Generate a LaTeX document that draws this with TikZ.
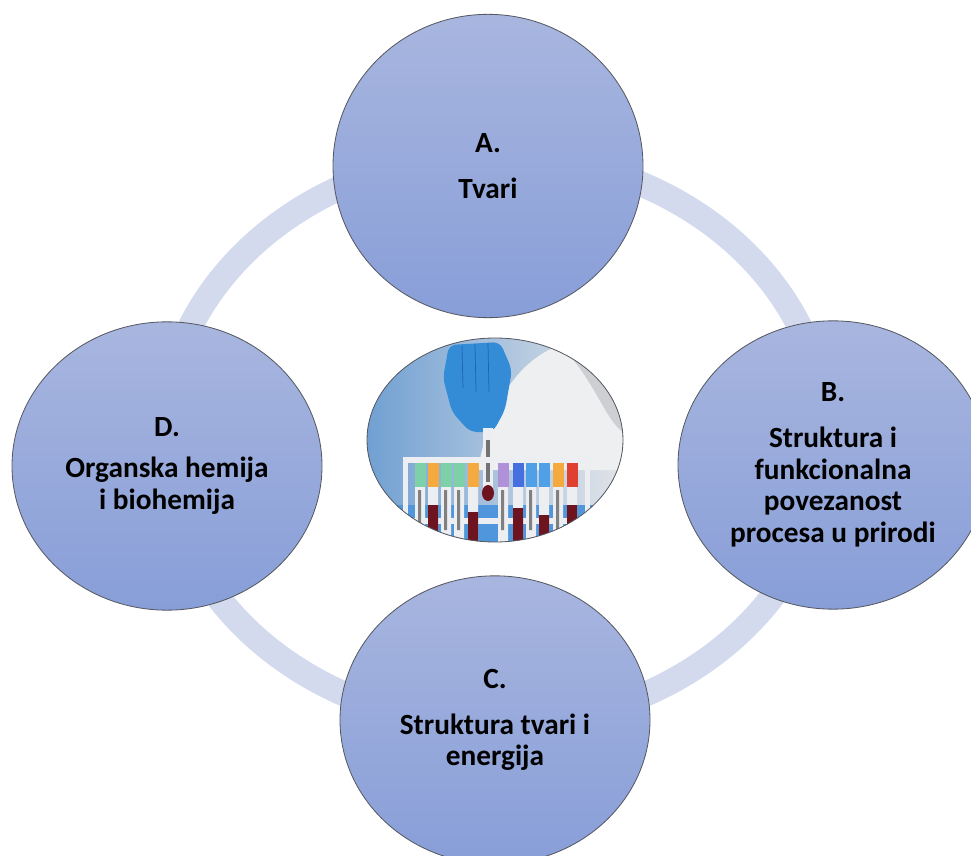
\documentclass[tikz,border=0pt]{standalone}
\usepackage{fontspec}
\setmainfont{Carlito}
\usetikzlibrary{shapes.geometric}
\definecolor{circtop}{RGB}{168,182,223}
\definecolor{circbot}{RGB}{136,158,216}
\definecolor{ringcol}{RGB}{212,218,238}
\definecolor{rimcol}{RGB}{85,88,96}
\definecolor{photoblue}{RGB}{112,160,210}
\definecolor{photogrey}{RGB}{226,228,232}
\definecolor{photosky}{RGB}{80,150,220}
\definecolor{coatwhite}{RGB}{238,239,241}
\definecolor{coatgrey}{RGB}{205,207,211}
\definecolor{glove}{RGB}{52,140,215}
\definecolor{glovedark}{RGB}{30,100,175}
\definecolor{tubewhite}{RGB}{236,238,242}
\definecolor{blood}{RGB}{110,20,30}
\definecolor{capgreen}{RGB}{125,208,168}
\definecolor{caporange}{RGB}{245,170,64}
\definecolor{cappurple}{RGB}{176,144,216}
\definecolor{capblue}{RGB}{70,112,224}
\definecolor{caplight}{RGB}{80,160,232}
\definecolor{capred}{RGB}{224,64,48}
\tikzset{
	topic/.style={ellipse, draw=rimcol, line width=0.7pt, top color=circtop, bottom color=circbot,
		minimum width=93mm, minimum height=86.5mm, inner sep=0pt, align=center,
		font=\fontsize{25}{27}\selectfont\bfseries},
	ring/.style={line width=7.5mm, color=ringcol},
}

\begin{document}
\begin{tikzpicture}[x=0.3mm, y=-0.3mm]
			%%%%% START %%%%%
			
			\useasboundingbox (0, 0) rectangle (971, 856);
			
			\draw[ring] (495, 440) ellipse (332 and 285);
			
			\node[topic, minimum height=91mm] (tvari) at (488, 166) {A.\\[12pt]Tvari};
			\node[topic] (struktura) at (833, 465) {B.\\[12pt]Struktura i\\funkcionalna\\povezanost\\procesa u prirodi};
			\node[topic] (energija) at (495, 720) {C.\\[12pt]Struktura tvari i\\energija};
			\node[topic] (organska) at (167, 466) {D.\\[8pt]Organska hemija\\i biohemija};
			
			\begin{scope}
				\clip (495, 440) ellipse (128 and 102);
				\shade[left color=photoblue, right color=photogrey] (367, 337) rectangle (623, 543);
				\fill[photosky] (367, 505) rectangle (623, 543);
				
				\fill[coatwhite] (478, 470) .. controls (490, 400) and (520, 360) .. (560, 345) -- (623, 337) -- (623, 470) -- cycle;
				\fill[coatgrey] (560, 345) .. controls (595, 380) and (605, 420) .. (623, 432) -- (623, 337) -- cycle;
				
				\fill[glove, rounded corners=6] (443, 378) -- (449, 345) -- (500, 342) -- (512, 370) -- (505, 410) -- (493, 432) -- (470, 432) -- (452, 412) -- cycle;
				\draw[glovedark, line width=0.6pt] (462, 346) -- (463, 388);
				\draw[glovedark, line width=0.6pt] (475, 344) -- (476, 392);
				\draw[glovedark, line width=0.6pt] (488, 343) -- (489, 392);
				
				\fill[tubewhite] (483, 428) rectangle (493, 495);
				\fill[black!55] (486, 440) rectangle (490, 482);
				\fill[blood] (488, 493) ellipse (6 and 8);
				
				\fill[tubewhite] (403, 457) rectangle (590, 463);
				\fill[tubewhite] (403, 518) rectangle (590, 524);
				\fill[tubewhite] (403, 457) rectangle (408, 543);
				\fill[tubewhite] (585, 457) rectangle (590, 543);
				
				\fill[tubewhite] (415, 487) rectangle (425, 543) (428, 487) rectangle (438, 543) (441, 487) rectangle (451, 543)
					(454, 487) rectangle (464, 543) (468, 487) rectangle (478, 543) (498, 487) rectangle (508, 543)
					(513, 487) rectangle (523, 543) (526, 487) rectangle (536, 543) (539, 487) rectangle (549, 543)
					(553, 487) rectangle (563, 543) (567, 487) rectangle (577, 543);
				\fill[blood] (428, 505) rectangle (438, 543) (468, 512) rectangle (478, 543) (513, 508) rectangle (523, 543)
					(539, 515) rectangle (549, 543) (567, 505) rectangle (577, 543);
				\fill[black!50] (418, 490) rectangle (421, 530) (444, 490) rectangle (447, 530) (457, 490) rectangle (460, 530)
					(501, 490) rectangle (504, 530) (529, 490) rectangle (532, 530) (556, 490) rectangle (559, 530);
				
				\fill[capgreen] (414.5, 463) rectangle (425.5, 487);
				\fill[caporange] (427.5, 463) rectangle (438.5, 487);
				\fill[capgreen] (440.5, 463) rectangle (451.5, 487);
				\fill[capgreen] (453.5, 463) rectangle (464.5, 487);
				\fill[caporange] (467.5, 463) rectangle (478.5, 487);
				\fill[cappurple] (497.5, 463) rectangle (508.5, 487);
				\fill[capblue] (512.5, 463) rectangle (523.5, 487);
				\fill[caplight] (525.5, 463) rectangle (536.5, 487);
				\fill[caplight] (538.5, 463) rectangle (549.5, 487);
				\fill[caporange] (552.5, 463) rectangle (563.5, 487);
				\fill[capred] (566.5, 463) rectangle (577.5, 487);
			\end{scope}
			\draw[rimcol, line width=0.7pt] (495, 440) ellipse (128 and 102);
			
			%%%%% END %%%%%
		\end{tikzpicture}
\end{document}
